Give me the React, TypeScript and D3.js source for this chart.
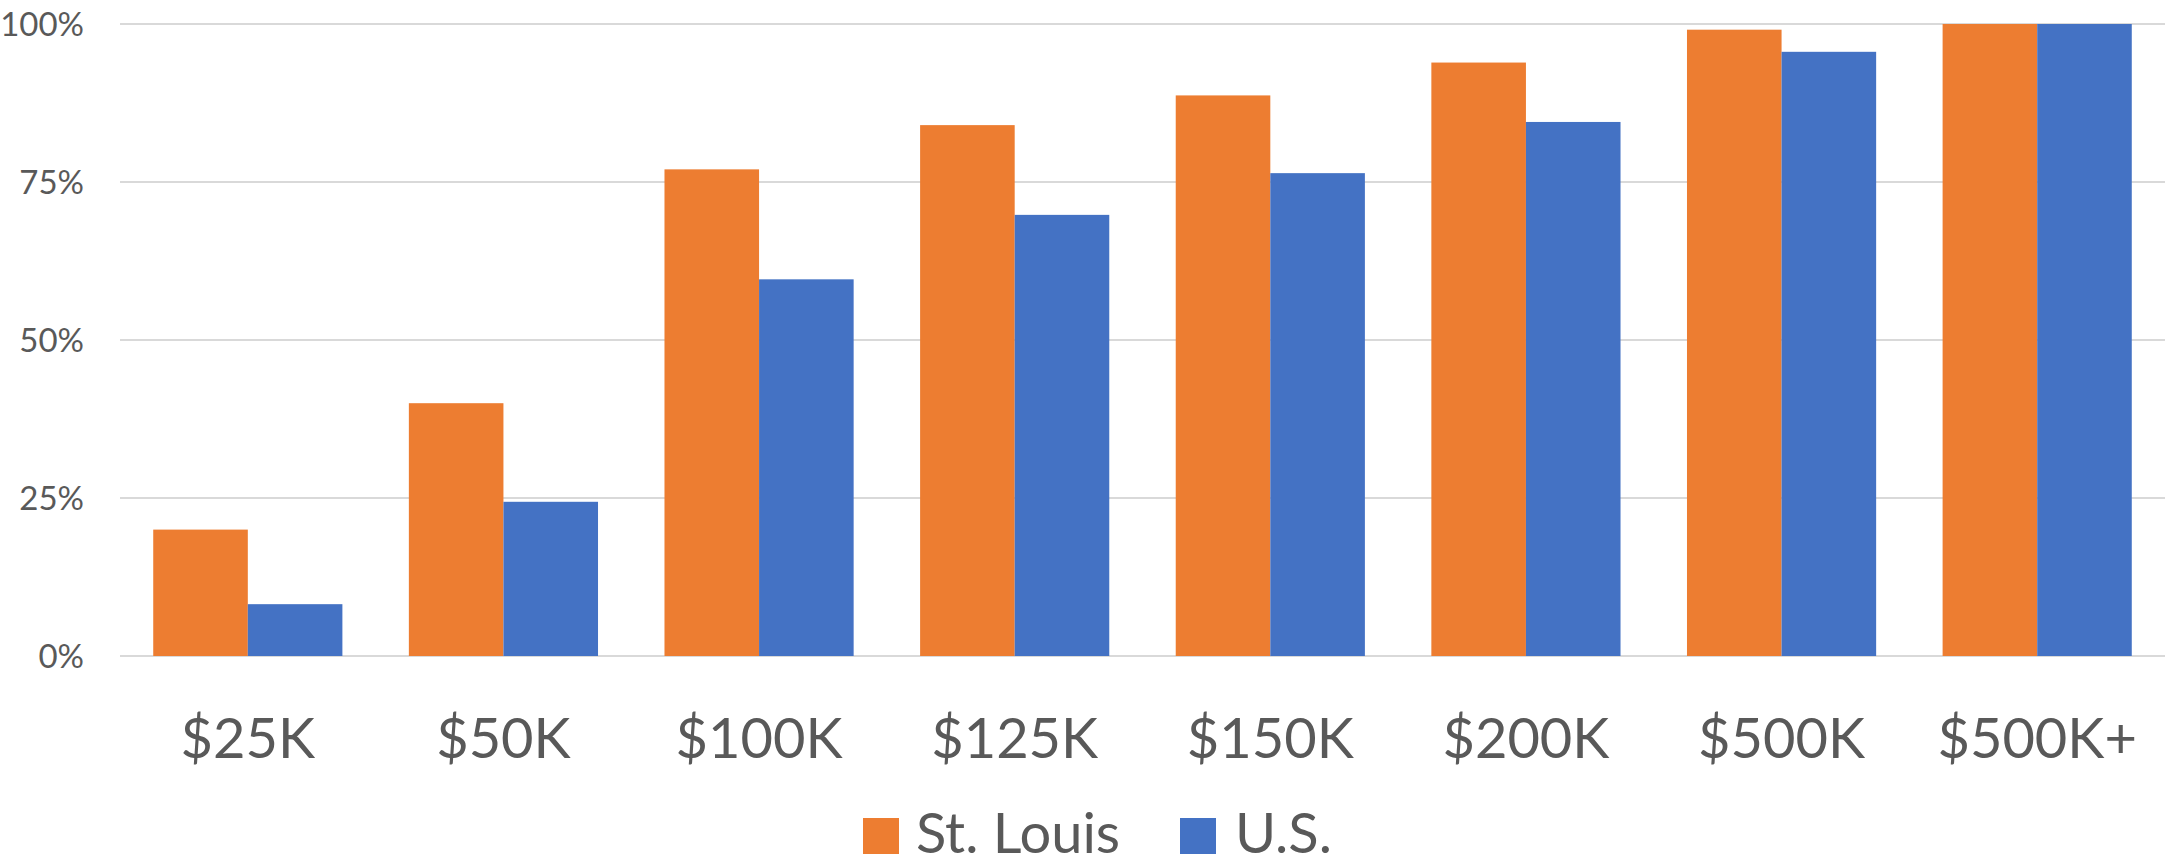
import React from "react";
import * as d3 from "d3";

const categories = ["$25K", "$50K", "$100K", "$125K", "$150K", "$200K", "$500K", "$500K+"];
const stLouis = [20.0, 40.0, 77.0, 84.0, 88.7, 93.9, 99.1, 100];
const us = [8.2, 24.4, 59.6, 69.8, 76.4, 84.5, 95.6, 100];
const seriesNames = ["St. Louis", "U.S."];
const seriesColors = ["#ED7D31", "#4472C4"];
const yTicks = [0, 25, 50, 75, 100];

const W = 2177;
const H = 865;
const FONT = "Lato, 'Open Sans', sans-serif";
const TEXT = "#595959";

export default function App() {
  const left = 120;
  const right = 2165;
  const top = 24;
  const bottom = 656;

  const x = d3.scaleBand<string>().domain(categories).range([left, right]).paddingInner(0).paddingOuter(0);
  const y = d3.scaleLinear().domain([0, 100]).range([bottom, top]);
  const barW = x.bandwidth() * 0.37;
  const series = [stLouis, us];

  return (
    <svg width={W} height={H} style={{ position: "absolute", left: 0, top: 0, background: "#fff" }}>
      <rect x={0} y={0} width={W} height={H} fill="#fff" />
      {yTicks.map((t) => (
        <g key={t}>
          <line x1={left} x2={right} y1={y(t)} y2={y(t)} stroke="#d9d9d9" strokeWidth={2} />
          <text x={84} y={y(t) + 12} textAnchor="end" fontFamily={FONT} fontSize={33} fill={TEXT}>
            {t}%
          </text>
        </g>
      ))}
      {categories.map((c, i) => {
        const cx = (x(c) as number) + x.bandwidth() / 2;
        return (
          <g key={c}>
            {series.map((s, j) => (
              <rect
                key={j}
                x={cx - barW + j * barW}
                y={y(s[i])}
                width={barW}
                height={bottom - y(s[i])}
                fill={seriesColors[j]}
              />
            ))}
            <text x={cx} y={758} textAnchor="middle" fontFamily={FONT} fontSize={56} fill={TEXT}>
              {c}
            </text>
          </g>
        );
      })}
      <g>
        <rect x={863} y={818} width={36} height={36} fill={seriesColors[0]} />
        <text x={916} y={853} fontFamily={FONT} fontSize={56} fill={TEXT}>
          {seriesNames[0]}
        </text>
        <rect x={1180} y={818} width={36} height={36} fill={seriesColors[1]} />
        <text x={1235} y={853} fontFamily={FONT} fontSize={56} fill={TEXT}>
          {seriesNames[1]}
        </text>
      </g>
    </svg>
  );
}
